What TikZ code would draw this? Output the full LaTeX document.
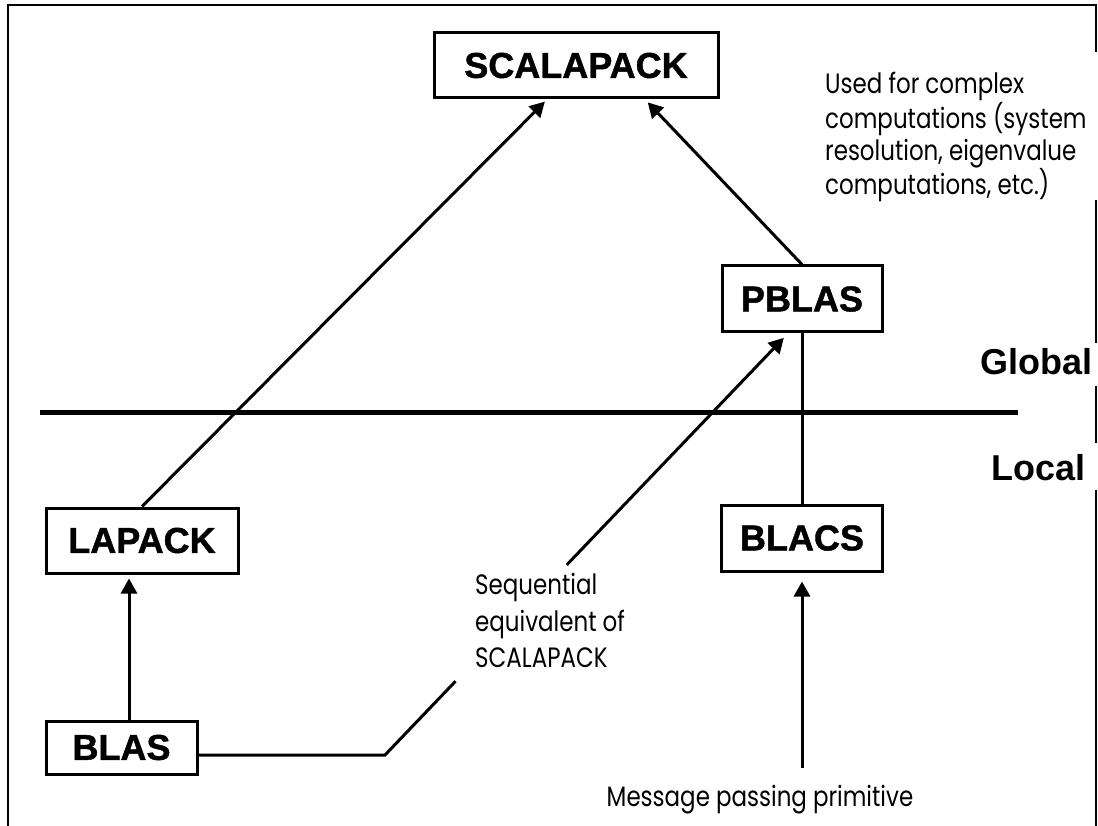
\documentclass[tikz,border=0pt]{standalone}
\usepackage{fontspec}
\setmainfont{Liberation Sans}
\newfontfamily\geofont{Poppins}[FakeStretch=0.82]
\newfontfamily\heavyfont{Liberation Sans Bold}[FakeBold=1.2]
\usetikzlibrary{arrows.meta,calc}
\newcommand\boxfont{\heavyfont\fontsize{36}{36}\selectfont}
\newcommand\sidefont{\fontsize{36}{36}\selectfont\bfseries}
\newcommand\notefont{\geofont\fontsize{28}{32}\selectfont}
\newcommand\seqfont{\geofont\fontsize{28}{36.5}\selectfont}
\tikzset{
  box/.style={draw, line width=3pt, inner sep=0pt, font=\boxfont},
  link/.style={line width=3pt},
  arr/.style={link, -{Triangle[length=15pt,width=16pt]}},
  note/.style={align=left, inner sep=0pt},
  side/.style={font=\sidefont, inner sep=0pt},
  frame/.style={line width=2pt},
  divider/.style={line width=5pt}
}
\begin{document}
\begin{tikzpicture}[x=1pt,y=-1pt]
\useasboundingbox (0,0) rectangle (1098,826);
% frame
\draw[frame] (8,826) -- (8,5) -- (1096,5) -- (1096,52);
\draw[frame] (1096,200) -- (1096,343);
\draw[frame] (1096,386) -- (1096,443);
\draw[frame] (1096,490) -- (1096,826);
% divider
\draw[divider] (40,412) -- (1018,412);
% boxes
\node[box, minimum width=284pt, minimum height=65pt] (scala) at (576,65.5) {SCALAPACK};
\node[box, minimum width=160pt, minimum height=66pt] (pblas) at (802,299) {PBLAS};
\node[box, minimum width=161pt, minimum height=66pt] (blacs) at (802,538) {BLACS};
\node[box, minimum width=192pt, minimum height=65pt] (lapack) at (142,540.5) {LAPACK};
\node[box, minimum width=151pt, minimum height=53pt] (blas) at (121.5,747.5) {BLAS};
% side labels
\node[side, anchor=base] (global) at (1036.5,374) {Global};
\node[side, anchor=base] (local) at (1038.5,480) {Local};
% notes
\node[note, font=\notefont, anchor=north west] (used) at (825,72) {Used for complex\\computations (system\\resolution, eigenvalue\\computations, etc.)};
\node[note, font=\seqfont, anchor=north west] (seq) at (475,573) {Sequential\\equivalent of\\SCALAPACK};
\node[inner sep=0pt, font=\notefont] (msg) at (760,800) {Message passing primitive};
% connectors
\draw[arr, shorten >=3pt] (lapack.north) -- ([xshift=-29pt]scala.south);
\draw[arr, shorten >=4pt] (pblas.north) -- ([xshift=69pt]scala.south);
\draw[link] (pblas.south) -- (blacs.north);
\coordinate (blasup) at ([xshift=7.5pt]blas.north);
\draw[arr, shorten >=4pt] (blasup) -- (blasup |- lapack.south);
\coordinate (mp) at (802,768);
\draw[arr, shorten >=9pt] (mp) -- (blacs.south);
\coordinate (corner) at (385,755);
\coordinate (ptarget) at ([xshift=-14pt]pblas.south);
\coordinate (gapA) at ($(corner)!0.175!(ptarget)$);
\coordinate (gapB) at ($(corner)!0.451!(ptarget)$);
\draw[link] ([yshift=-7.5pt]blas.east) -- (corner) -- (gapA);
\draw[arr, shorten >=6pt] (gapB) -- (ptarget);
\end{tikzpicture}
\end{document}
